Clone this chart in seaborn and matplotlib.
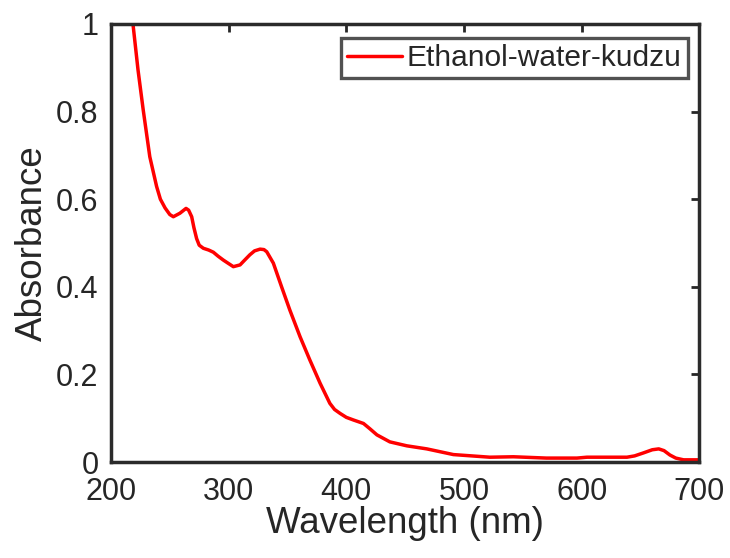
import matplotlib
matplotlib.use("Agg")
import matplotlib.pyplot as plt
import seaborn as sns
import pandas as pd

wavelength = [218.7, 223, 227.4, 233, 238.8, 242, 246, 250, 253, 258.6, 263.8, 266, 268.6, 270.5,
              272.8, 275, 278.5, 283, 287, 291, 295.5, 300, 304, 309.7, 314, 318, 322, 326.7,
              330, 332.4, 338, 345, 352, 360.7, 369, 377.7, 386, 390, 394.7, 400, 406, 414.6,
              420, 426, 437, 451.4, 468.4, 491, 522, 542, 570, 596, 604.5, 638.5, 645,
              652.7, 660, 665.5, 670, 675, 680, 686.6, 700]
absorbance = [1.0, 0.895, 0.804, 0.697, 0.629, 0.60, 0.58, 0.565, 0.56, 0.568, 0.579, 0.575,
              0.56, 0.535, 0.51, 0.495, 0.488, 0.484, 0.479, 0.47, 0.461, 0.453, 0.446, 0.45,
              0.462, 0.473, 0.482, 0.486, 0.485, 0.48, 0.454, 0.40, 0.347, 0.286, 0.233, 0.18,
              0.134, 0.12, 0.111, 0.102, 0.096, 0.088, 0.076, 0.062, 0.046, 0.037, 0.030,
              0.017, 0.011, 0.012, 0.009, 0.009, 0.011, 0.011, 0.014, 0.021, 0.028, 0.03,
              0.026, 0.016, 0.009, 0.005, 0.005]
series_name = "Ethanol-water-kudzu"
xticks = [200, 300, 400, 500, 600, 700]
yticks = [0, 0.2, 0.4, 0.6, 0.8, 1]
ytick_labels = ["0", "0.2", "0.4", "0.6", "0.8", "1"]

df = pd.DataFrame({"Wavelength": wavelength, "Absorbance": absorbance, "Sample": series_name})

sns.set_style("white")
plt.rcParams['font.family'] = ['Liberation Sans', 'DejaVu Sans']

fig = plt.figure(figsize=(7.3, 5.58), dpi=100)
ax = fig.add_axes([0.152, 0.172, 0.806, 0.785])
sns.lineplot(data=df, x="Wavelength", y="Absorbance", hue="Sample",
             palette=["#ff0000"], linewidth=2.5, ax=ax)

ax.set_xlim(200, 700)
ax.set_ylim(0, 1)
ax.set_xticks(xticks)
ax.set_xticklabels([str(t) for t in xticks])
ax.set_yticks(yticks)
ax.set_yticklabels(ytick_labels)
ax.tick_params(direction='in', length=6, width=2, top=True, right=True,
               labelsize=22, colors='#262626')
ax.tick_params(axis='x', pad=11)
ax.tick_params(axis='y', pad=9)
for s in ax.spines.values():
    s.set_linewidth(2.5)
    s.set_color('#2b2b2b')
    s.set_visible(True)
ax.set_xlabel("Wavelength (nm)", fontsize=26.5, color='#262626')
ax.set_ylabel("Absorbance", fontsize=26.5, color='#262626')
ax.xaxis.set_label_coords(0.5, -0.10)
ax.yaxis.set_label_coords(-0.104, 0.5)

leg = ax.legend(loc='upper right', fontsize=21.5, frameon=True, fancybox=False,
                borderpad=0.2, borderaxespad=0.0, handlelength=1.85, handletextpad=0.15,
                bbox_to_anchor=(0.98, 0.968))
leg.get_frame().set_edgecolor('#262626')
leg.get_frame().set_linewidth(2.4)
for h in leg.get_lines():
    h.set_linewidth(2.5)

fig.savefig("out.png", dpi=100)
